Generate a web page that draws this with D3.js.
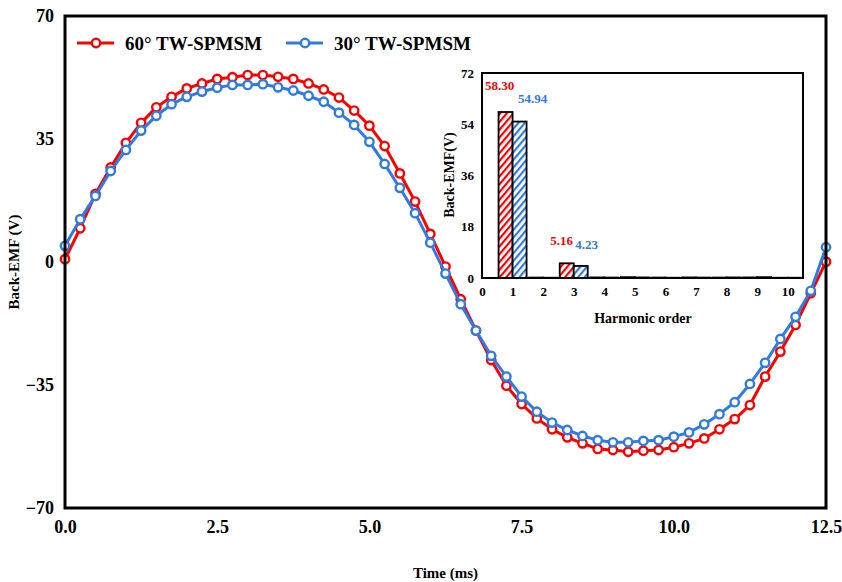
<!DOCTYPE html>
<html><head>
<meta charset="UTF-8">
<script src="https://cdn.jsdelivr.net/npm/d3@7/dist/d3.min.js"></script>
<style>
  body { margin:0; background:#fff; }
  svg { display:block; font-family: 'Liberation Serif', 'Times New Roman', serif; font-weight:bold; }
</style>
</head><body>
<svg id="chart" width="842" height="582"></svg>
<script>
// time axis (ms), one marker every 0.25 ms
const time = [0, 0.25, 0.5, 0.75, 1, 1.25, 1.5, 1.75, 2, 2.25, 2.5, 2.75, 3, 3.25, 3.5, 3.75, 4, 4.25, 4.5, 4.75,
  5, 5.25, 5.5, 5.75, 6, 6.25, 6.5, 6.75, 7, 7.25, 7.5, 7.75, 8, 8.25, 8.5, 8.75, 9, 9.25, 9.5, 9.75,
  10, 10.25, 10.5, 10.75, 11, 11.25, 11.5, 11.75, 12, 12.25, 12.5];

const emf60 = [0.8, 9.6, 19.4, 26.9, 33.9, 39.6, 44.0, 47.0, 49.4, 50.8, 52.1, 52.6, 53.2, 53.2, 52.7, 52.1, 50.8, 49.1, 46.8, 43.1,
  38.8, 33.0, 25.2, 17.2, 8.0, -1.3, -10.6, -19.5, -27.9, -35.2, -40.4, -44.5, -47.6, -49.9, -51.6, -53.2, -53.5, -54.0, -53.7, -53.5,
  -52.7, -51.6, -50.2, -47.6, -44.7, -40.7, -32.6, -25.5, -17.9, -8.9, 0.1];

const emf30 = [4.6, 12.2, 18.8, 25.9, 31.9, 37.4, 41.6, 44.9, 47.0, 48.5, 49.6, 50.4, 50.4, 50.6, 49.7, 48.8, 47.3, 45.6, 42.5, 39.0,
  34.2, 27.9, 21.1, 13.9, 5.5, -3.3, -12.0, -19.5, -26.7, -32.6, -38.3, -42.6, -45.7, -47.8, -49.5, -50.7, -51.3, -51.3, -50.9, -50.7,
  -49.7, -48.5, -46.2, -43.3, -39.9, -34.7, -28.7, -21.9, -15.6, -8.2, 4.2];

const xTicks = [0, 2.5, 5, 7.5, 10, 12.5];
const yTicks = [-70, -35, 0, 35, 70];

// inset: harmonic spectrum
const harmonics = [1, 2, 3, 4, 5, 6, 7, 8, 9, 10];
const harm60 = [58.30, 0.15, 5.16, 0.2, 0.3, 0.15, 0.2, 0.15, 0.2, 0.1];
const harm30 = [54.94, 0.1, 4.23, 0.15, 0.2, 0.1, 0.15, 0.2, 0.3, 0.1];
const harmXTicks = [0, 1, 2, 3, 4, 5, 6, 7, 8, 9, 10];
const harmYTicks = [0, 18, 36, 54, 72];

const RED = '#ff0000', BLUE = '#2f7be6';

const svg = d3.select('#chart');

// ───────────── main plot ─────────────
const x = d3.scaleLinear().domain([0, 12.5]).range([65, 826]);
const y = d3.scaleLinear().domain([-70, 70]).range([508, 16]);

const xAxis = svg.append('g').attr('transform', 'translate(0,508)')
  .call(d3.axisBottom(x).tickValues(xTicks).tickFormat(d3.format('.1f')).tickSize(0).tickPadding(12));
const yAxis = svg.append('g').attr('transform', 'translate(65,0)')
  .call(d3.axisLeft(y).tickValues(yTicks).tickSize(0).tickPadding(11));
for (const g of [xAxis, yAxis]) {
  g.select('.domain').remove();
  g.selectAll('text').attr('font-size', 18).attr('font-family', 'Liberation Serif').attr('font-weight', 'bold').attr('fill', '#000');
}

const series = [
  { name: '60\u00b0 TW-SPMSM', values: emf60, color: RED },
  { name: '30\u00b0 TW-SPMSM', values: emf30, color: BLUE },
];

const line = d3.line().x((d, i) => x(time[i])).y(d => y(d));
for (const s of series) {
  const g = svg.append('g');
  g.append('path').attr('d', line(s.values)).attr('fill', 'none')
    .attr('stroke', s.color).attr('stroke-width', 3).attr('stroke-linejoin', 'round');
  g.selectAll('circle').data(s.values).join('circle')
    .attr('cx', (d, i) => x(time[i])).attr('cy', d => y(d)).attr('r', 4.2)
    .attr('fill', '#fff').attr('stroke', s.color).attr('stroke-width', 2.4);
}

// frame
svg.append('rect').attr('x', 65).attr('y', 16).attr('width', 761).attr('height', 492)
  .attr('fill', 'none').attr('stroke', '#000').attr('stroke-width', 3);

svg.append('text').attr('x', x(6.25)).attr('y', 578).attr('text-anchor', 'middle')
  .attr('font-size', 15).text('Time (ms)');
svg.append('text').attr('transform', 'translate(19,262) rotate(-90)').attr('text-anchor', 'middle')
  .attr('font-size', 15).text('Back-EMF (V)');

// legend
const legX = [77, 286];
series.forEach((s, i) => {
  const lg = svg.append('g').attr('transform', `translate(${legX[i]},43)`);
  lg.append('line').attr('x1', 0).attr('x2', 37).attr('stroke', s.color).attr('stroke-width', 3);
  lg.append('circle').attr('cx', 19).attr('r', 4.2).attr('fill', '#fff').attr('stroke', s.color).attr('stroke-width', 2.4);
  lg.append('text').attr('x', 48).attr('y', 7).attr('font-size', 19).text(s.name);
});

// ───────────── inset ─────────────
const defs = svg.append('defs');
for (const [id, c] of [['hatchRed', RED], ['hatchBlue', BLUE]]) {
  const p = defs.append('pattern').attr('id', id).attr('patternUnits', 'userSpaceOnUse')
    .attr('width', 5).attr('height', 5).attr('patternTransform', 'rotate(40)');
  p.append('rect').attr('width', 5).attr('height', 5).attr('fill', '#fff');
  p.append('rect').attr('width', 2.2).attr('height', 5).attr('fill', c);
}

const ix = d3.scaleLinear().domain([0, 10.5]).range([482, 803]);
const iy = d3.scaleLinear().domain([0, 72]).range([278, 73]);
const barW = 14;

svg.append('rect').attr('x', 482).attr('y', 73).attr('width', 321).attr('height', 205).attr('fill', '#fff');

const inset = svg.append('g');
const bars = [
  { vals: harm60, fill: 'url(#hatchRed)', off: -barW },
  { vals: harm30, fill: 'url(#hatchBlue)', off: 0 },
];
for (const b of bars) {
  inset.append('g').selectAll('rect').data(b.vals).join('rect')
    .attr('x', (d, i) => ix(harmonics[i]) + b.off).attr('width', barW)
    .attr('y', d => iy(d)).attr('height', d => iy(0) - iy(d))
    .attr('fill', b.fill).attr('stroke', '#000').attr('stroke-width', 1.8);
}

inset.append('rect').attr('x', 482).attr('y', 73).attr('width', 321).attr('height', 205)
  .attr('fill', 'none').attr('stroke', '#000').attr('stroke-width', 2);

const ixAxis = inset.append('g').attr('transform', 'translate(0,278)')
  .call(d3.axisBottom(ix).tickValues(harmXTicks).tickSize(0).tickPadding(9));
const iyAxis = inset.append('g').attr('transform', 'translate(482,0)')
  .call(d3.axisLeft(iy).tickValues(harmYTicks).tickSize(0).tickPadding(8));
for (const g of [ixAxis, iyAxis]) {
  g.select('.domain').remove();
  g.selectAll('text').attr('font-size', 13).attr('font-family', 'Liberation Serif').attr('font-weight', 'bold').attr('fill', '#000');
}

inset.append('text').attr('x', 643).attr('y', 323).attr('text-anchor', 'middle')
  .attr('font-size', 14).text('Harmonic order');
inset.append('text').attr('transform', 'translate(454,175) rotate(-90)').attr('text-anchor', 'middle')
  .attr('font-size', 14).text('Back-EMF(V)');

// value labels
const valueLabels = [
  { h: 1, v: harm60[0], dx: -13, y: 90, color: RED },
  { h: 1, v: harm30[0], dx: 20, y: 103, color: BLUE },
  { h: 3, v: harm60[2], dx: -12, y: 245, color: RED },
  { h: 3, v: harm30[2], dx: 13, y: 249, color: BLUE },
];
for (const l of valueLabels) {
  inset.append('text').attr('x', ix(l.h) + l.dx).attr('y', l.y).attr('text-anchor', 'middle')
    .attr('font-size', 13).attr('fill', l.color).text(l.v.toFixed(2));
}
</script>
</body></html>
